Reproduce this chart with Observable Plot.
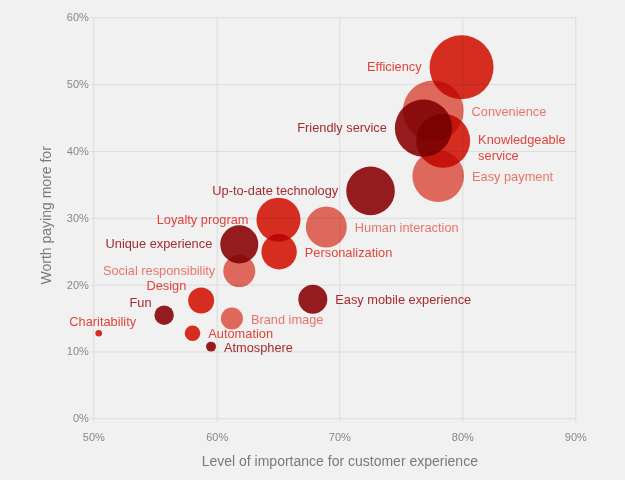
<!DOCTYPE html>
<html>
<head>
<meta charset="utf-8">
<script src="https://cdn.jsdelivr.net/npm/d3@7"></script>
<script src="https://cdn.jsdelivr.net/npm/@observablehq/plot@0.6"></script>
<style>
  html, body { margin: 0; padding: 0; background: #f1f1f2; }
  #chart svg { display: block; background: linear-gradient(to right, #f4f4f5 35px, #f1f1f2 35px); }
</style>
</head>
<body>
<div id="chart"></div>
<script>
const labels = ["Efficiency", "Convenience", "Friendly service", "Knowledgeable\nservice", "Easy payment",
  "Up-to-date technology", "Loyalty program", "Human interaction", "Unique experience", "Personalization",
  "Social responsibility", "Design", "Fun", "Charitability", "Automation", "Atmosphere", "Brand image",
  "Easy mobile experience"];
const importance = [79.9, 77.6, 76.8, 78.4, 78.0, 72.5, 65.0, 68.9, 61.8, 65.05, 61.8, 58.7, 55.7, 50.4, 58.0, 59.5, 61.2, 67.8];
const worthPaying = [52.6, 46.1, 43.5, 41.6, 36.3, 34.1, 29.8, 28.7, 26.1, 25.0, 22.1, 17.7, 15.5, 12.8, 12.8, 10.8, 15.0, 17.9];
const weight = [100, 89.7, 79.9, 71.2, 65, 57.7, 47.3, 41, 35.3, 30.6, 25, 16.5, 9.2, 1.06, 5.9, 2.4, 11.8, 20.5];
const group = ["a", "b", "c", "a", "b", "c", "a", "b", "c", "a", "b", "a", "c", "a", "a", "c", "b", "c"];
const labelSide = ["left", "right", "left", "right", "right", "left", "left", "right", "left", "right",
  "left", "topleft", "topleft", "top", "right", "right", "right", "right"];
const xTicks = [50, 60, 70, 80, 90];
const yTicks = [0, 10, 20, 30, 40, 50, 60];
const xTitle = "Level of importance for customer experience";
const yTitle = "Worth paying more for";

const groups = ["a", "b", "c"];
const bubbleColors = ["#e22f21", "#ec6e61", "#9e1d1f"];
const labelColors = ["#e0443a", "#e6756a", "#a52c30"];

const data = labels.map((label, i) => ({
  label, x: importance[i], y: worthPaying[i], w: weight[i], g: group[i], side: labelSide[i]
}));

const rMax = 32;
const rScale = d3.scaleSqrt().domain([0, 100]).range([0, rMax]);
const gap = 8;
const fontSize = 12.8;

const labelMarks = data.map(d => {
  const r = rScale(d.w);
  const fill = labelColors[groups.indexOf(d.g)];
  const base = {x: "x", y: "y", text: "label", fill, fontSize};
  const multi = d.label.includes("\n");
  if (d.side === "left") return Plot.text([d], {...base, textAnchor: "end", dx: -(r + gap)});
  if (d.side === "right") return Plot.text([d], {...base, textAnchor: "start", dx: r + gap,
    lineAnchor: multi ? "top" : "middle", dy: multi ? -fontSize * 0.6 : 0, lineHeight: 1.25});
  if (d.side === "top") return Plot.text([d], {...base, textAnchor: "middle", dx: 4, dy: -(r + gap + 0.5)});
  const k = (r + gap) / Math.SQRT2;
  return Plot.text([d], {...base, textAnchor: "end", dx: -k, dy: -k});
});

const chart = Plot.plot({
  width: 625,
  height: 480,
  marginLeft: 93.3,
  marginRight: 49.7,
  marginTop: 17.3,
  marginBottom: 61.7,
  style: {fontFamily: "'Liberation Sans', Arial, Helvetica, sans-serif", background: "transparent"},
  x: {type: "linear", domain: xTicks, range: [93.3, 216.7, 339.3, 462.3, 575.3]},
  y: {type: "linear", domain: [0, 60], range: [418.3, 17.3]},
  r: {type: "sqrt", domain: [0, 100], range: [0, rMax]},
  color: {domain: groups, range: bubbleColors},
  marks: [
    Plot.ruleX(xTicks, {stroke: "#dcdcdc", strokeWidth: 1, insetBottom: -4}),
    Plot.ruleY(yTicks, {stroke: "#dcdcdc", strokeWidth: 1, insetLeft: -3}),
    Plot.axisX(xTicks, {tickFormat: d => d + "%", tickSize: 0, tickPadding: 14, fontSize: 11, fill: "#888888", label: null}),
    Plot.axisY(yTicks, {tickFormat: d => d + "%", tickSize: 0, tickPadding: 5, fontSize: 11, fill: "#888888", label: null}),
    Plot.dot(data, {x: "x", y: "y", r: "w", fill: "g", stroke: "none", mixBlendMode: "multiply", sort: {channel: "-r"}}),
    ...labelMarks,
    Plot.text([xTitle], {frameAnchor: "bottom", textAnchor: "middle", lineAnchor: "middle", dy: 43, dx: 5, fontSize: 14, fill: "#7a7a7a"}),
    Plot.text([yTitle], {frameAnchor: "left", textAnchor: "middle", lineAnchor: "middle", rotate: -90, dx: -47, dy: -3, fontSize: 14, fill: "#7a7a7a"})
  ]
});
document.getElementById("chart").appendChild(chart);
</script>
</body>
</html>
